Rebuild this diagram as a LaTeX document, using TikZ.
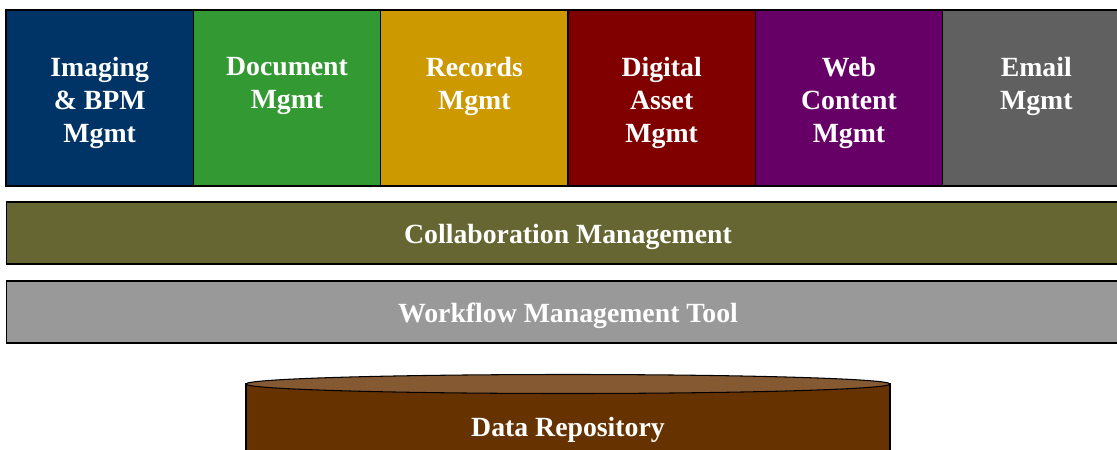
\documentclass[tikz,border=0pt]{standalone}
\usepackage{fontspec}
\setmainfont{Liberation Serif}
\usepackage{xcolor}
\usepackage{tikz}
\usetikzlibrary{positioning}

\definecolor{imgblue}{HTML}{003366}
\definecolor{docgreen}{HTML}{339933}
\definecolor{recgold}{HTML}{CC9900}
\definecolor{damred}{HTML}{800000}
\definecolor{webpurple}{HTML}{660066}
\definecolor{mailgray}{HTML}{606060}
\definecolor{collabolive}{HTML}{666633}
\definecolor{flowgray}{HTML}{999999}
\definecolor{repobody}{HTML}{663300}
\definecolor{repotop}{HTML}{855A33}

\tikzset{
  module/.style={draw=black, line width=0.6pt, minimum width=3.747cm, minimum height=3.52cm, inner sep=0pt},
  modtext/.style={text=white, font=\fontsize{15.8}{18.7}\selectfont\bfseries, align=center, inner sep=0pt, anchor=north},
  layerbar/.style={draw=black, line width=0.6pt, minimum width=22.48cm, minimum height=1.24cm, inner sep=0pt,
    text height=12.4pt, text depth=0pt, text=white, font=\fontsize{15.8}{18.7}\selectfont\bfseries}
}

\begin{document}
\begin{tikzpicture}[x=0.02cm, y=-0.02cm]
    \useasboundingbox (0,0) rectangle (1117,450);

    % Modules
    \foreach \name/\col/\txt [count=\i] in {img/imgblue/{Imaging\\\& BPM\\Mgmt}, doc/docgreen/{Document\\Mgmt},
        rec/recgold/{Records\\Mgmt}, dam/damred/{Digital\\Asset\\Mgmt}, web/webpurple/{Web\\Content\\Mgmt},
        mail/mailgray/{Email\\Mgmt}}
    {
        \node[module, fill=\col] (\name) at ({6+187.33*(\i-0.5)},98) {};
        \node[modtext, below=0.95cm of \name.north] (\name-txt) {\txt};
    }

    % Layers
    \node[layerbar, fill=collabolive] (collab) at (568,233) {Collaboration Management};
    \node[layerbar, fill=flowgray] (flow) at (568,312) {Workflow Management Tool};

    % Repository
    \fill[repobody, draw=black, line width=0.6pt] (246,384) rectangle (890,470);
    \draw[fill=repotop, line width=0.6pt] (568,384) ellipse [x radius=322, y radius=9.5];
    \node[text=white, text height=12.4pt, text depth=0pt, inner sep=0pt,
        font=\fontsize{15.8}{18.7}\selectfont\bfseries] (repo) at (568,426) {Data Repository};
\end{tikzpicture}
\end{document}
